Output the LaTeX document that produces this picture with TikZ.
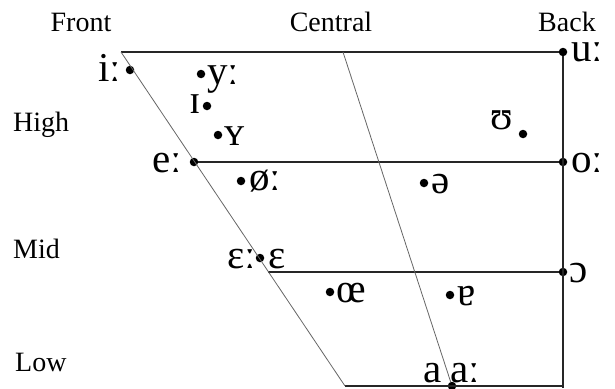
\documentclass[tikz,border=0pt]{standalone}
\usepackage{fontspec}
\setmainfont{Liberation Serif}
\begin{document}
\begin{tikzpicture}[x=1pt,y=-1pt,
  thickln/.style={line width=1.7pt,draw=black!85},
  thinln/.style={line width=0.8pt,draw=black!60},
  vdot/.style={circle,fill=black,inner sep=0pt,minimum size=8.5pt},
  lbl/.style={inner sep=0pt,font=\fontsize{28}{30}\selectfont},
  ipa/.style={inner sep=0pt,font=\fontsize{41}{43}\selectfont}]
\useasboundingbox (0,0) rectangle (615,388);
% corners
\coordinate (TL) at (121,52);
\coordinate (BL) at (345,386);
\coordinate (BR) at (563,388);
\coordinate (CT) at (343,52);
\coordinate (LL) at (268,272);
% dots
\node[vdot] (di) at (130,70) {};
\node[vdot] (dy) at (201,74) {};
\node[vdot] (dI) at (207,106) {};
\node[vdot] (dY) at (218,135) {};
\node[vdot] (de) at (194,162) {};
\node[vdot] (doe) at (241,181) {};
\node[vdot] (dschwa) at (424,183) {};
\node[vdot] (dU) at (523,134) {};
\node[vdot] (do) at (563,162) {};
\node[vdot] (du) at (563,52) {};
\node[vdot] (deps) at (260,258) {};
\node[vdot] (dO) at (563,272) {};
\node[vdot] (dOE) at (330,292) {};
\node[vdot] (dtrn) at (450,295) {};
\node[vdot] (da) at (452,386) {};
% lines
\draw[thickln] (TL) -- (du);
\draw[thickln] (du) -- (BR);
\draw[thickln] (de) -- (do);
\draw[thickln] (LL) -- (dO);
\draw[thickln] (BL) -- (BR |- BL);
\draw[thinln] (TL) -- (BL);
\draw[thinln] (CT) -- (da);
% labels
\node[lbl,anchor=base] (front) at (81,31) {Front};
\node[lbl,anchor=base] (central) at (331,31) {Central};
\node[lbl,anchor=base] (back) at (567,31) {Back};
\node[lbl,anchor=base west] (high) at (13,131) {High};
\node[lbl,anchor=base west] (mid) at (13,258) {Mid};
\node[lbl,anchor=base west] (low) at (15,371) {Low};
% vowel symbols
\node[ipa,anchor=base east] (ti) at (121,81) {iː};
\node[ipa,anchor=base west] (ty) at (207,84) {yː};
\node[ipa,anchor=base east] (tI) at (201,113) {ɪ};
\node[ipa,anchor=base west] (tY) at (224,145) {ʏ};
\node[ipa,anchor=base east] (te) at (182,172) {eː};
\node[ipa,anchor=base west] (toe) at (249,190) {øː};
\node[ipa,anchor=base west] (tschwa) at (431,193) {ə};
\node[ipa,anchor=base west] (tU) at (490,129) {ʊ};
\node[ipa,anchor=base west] (to) at (571,172) {oː};
\node[ipa,anchor=base west] (tu) at (571,61) {uː};
\node[ipa,anchor=base east] (teps1) at (256,268) {ɛː};
\node[ipa,anchor=base west] (teps) at (268,268) {ɛ};
\node[ipa,anchor=base west] (tO) at (569,282) {ɔ};
\node[ipa,anchor=base west] (tOE) at (336,302) {œ};
\node[ipa,anchor=base west] (ttrn) at (457,305) {ɐ};
\node[ipa,anchor=base east] (ta) at (442,382) {a};
\node[ipa,anchor=base west] (taa) at (450,382) {aː};
\end{tikzpicture}
\end{document}
